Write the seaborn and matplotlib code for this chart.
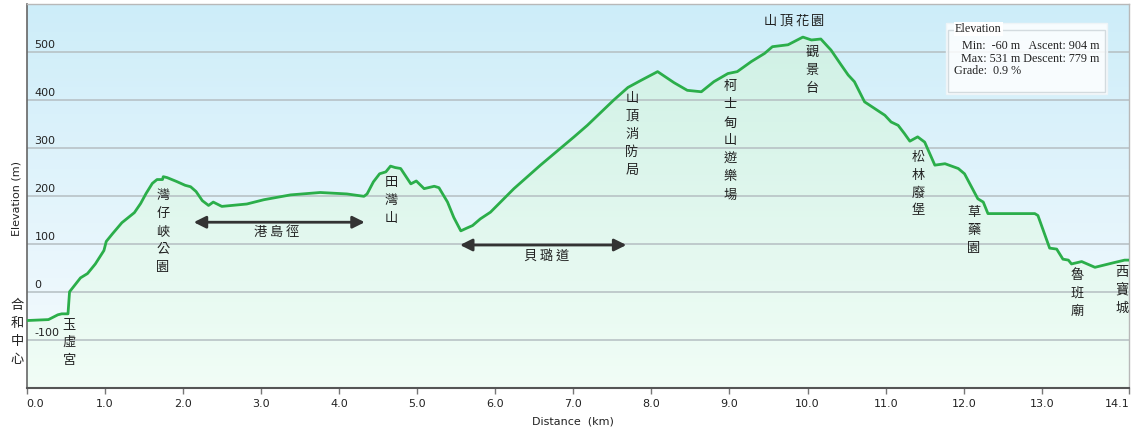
import numpy as np
import matplotlib
matplotlib.use("Agg")
import matplotlib.pyplot as plt
import seaborn as sns
from matplotlib.colors import LinearSegmentedColormap
from matplotlib.patches import Rectangle

# ---------------- data ----------------
distance_km = [0.00, 0.28, 0.40, 0.45, 0.53, 0.55, 0.69, 0.78, 0.88, 0.99, 1.02, 1.10, 1.22,
               1.38, 1.46, 1.53, 1.61, 1.67, 1.74, 1.75, 1.80, 1.92, 2.03, 2.10, 2.17, 2.25,
               2.33, 2.39, 2.50, 2.82, 3.04, 3.38, 3.76, 4.10, 4.32, 4.36, 4.44, 4.52, 4.60,
               4.66, 4.72, 4.79, 4.92, 4.99, 5.09, 5.22, 5.28, 5.39, 5.47, 5.56, 5.64, 5.71,
               5.81, 5.94, 6.24, 6.58, 7.01, 7.18, 7.52, 7.70, 7.87, 8.08, 8.29, 8.46, 8.64,
               8.80, 8.98, 9.10, 9.28, 9.45, 9.55, 9.75, 9.94, 10.05, 10.17, 10.26, 10.30,
               10.43, 10.52, 10.60, 10.73, 10.99, 11.07, 11.16, 11.24, 11.31, 11.41, 11.50,
               11.63, 11.76, 11.93, 12.01, 12.18, 12.25, 12.31, 12.91, 12.95, 13.10, 13.19,
               13.27, 13.34, 13.38, 13.51, 13.68, 13.93, 14.06, 14.12]
elevation_m = [-60, -58, -48, -46, -46, 0, 29, 38, 58, 86, 105, 121, 144,
               165, 184, 205, 226, 234, 234, 240, 238, 230, 222, 219, 209, 190,
               180, 187, 178, 183, 192, 202, 207, 204, 199, 204, 229, 246, 250,
               262, 259, 257, 225, 231, 215, 220, 217, 187, 155, 127, 133, 138,
               152, 166, 215, 264, 323, 347, 400, 426, 441, 459, 436, 420, 417,
               438, 455, 459, 480, 497, 511, 515, 531, 525, 527, 511, 504,
               473, 452, 438, 396, 368, 354, 347, 330, 314, 323, 312,
               264, 267, 257, 246, 194, 187, 163, 163, 159, 91, 89,
               68, 66, 58, 63, 51, 61, 66, 66]

x_ticks = [0, 1, 2, 3, 4, 5, 6, 7, 8, 9, 10, 11, 12, 13, 14.12]
x_tick_labels = ["0.0", "1.0", "2.0", "3.0", "4.0", "5.0", "6.0", "7.0", "8.0", "9.0",
                 "10.0", "11.0", "12.0", "13.0", "14.1"]
y_ticks = [-100, 0, 100, 200, 300, 400, 500]
y_tick_labels = ["-100", "0", "100", "200", "300", "400", "500"]

# vertical place names: km, elevation of first character
vertical_names = ["合和中心", "玉虛宮", "灣仔峽公園", "田灣山", "山頂消防局", "柯士甸山遊樂場",
                  "觀景台", "松林廢堡", "草藥園", "魯班廟", "西寶城"]
vertical_km = [-0.123, 0.543, 1.746, 4.666, 7.752, 9.006, 10.056, 11.414, 12.131, 13.449, 14.026]
vertical_elev = [-28, -68, 201, 228, 404, 427, 498, 281, 166, 34, 41]

# horizontal names: km, elevation of centre
horizontal_names = ["港島徑", "貝璐道", "山頂花園"]
horizontal_km = [3.193, 6.650, 9.826]
horizontal_elev = [124, 74, 564]

# trail section arrows
trail_start_km = [2.14, 5.55]
trail_end_km = [4.33, 7.68]
trail_elev = [145, 97.5]

stat_min, stat_max, stat_ascent, stat_descent, stat_grade = -60, 531, 904, 779, 0.9

# ---------------- figure ----------------
sns.set_theme(style="white")
plt.rcParams['font.family'] = ['DejaVu Sans']
W, H = 1135, 434
fig = plt.figure(figsize=(W / 100, H / 100), dpi=100)
ax = fig.add_axes([26.6 / W, 1 - 387.7 / H, (1129.3 - 26.6) / W, (387.7 - 4) / H])

xmin, xmax, ymin, ymax = 0, 14.12, -200, 600
grad = np.linspace(0, 1, 256).reshape(-1, 1)
bg_cmap = LinearSegmentedColormap.from_list("bg", ["#f7fbfe", "#cdedf9"])
ax.imshow(grad, cmap=bg_cmap, extent=[xmin, xmax, ymin, ymax], origin="lower",
          aspect="auto", zorder=0, interpolation="bicubic")

green_cmap = LinearSegmentedColormap.from_list("gr", ["#f1fdf6", "#cdf0e4"])
poly = ax.fill_between(distance_km, elevation_m, ymin, color="none", lw=0)
gimg = ax.imshow(grad, cmap=green_cmap, extent=[xmin, xmax, ymin, ymax], origin="lower",
                 aspect="auto", zorder=1, interpolation="bicubic")
gimg.set_clip_path(poly.get_paths()[0], transform=ax.transData)

for yv in y_ticks:
    ax.axhline(yv, color="#b5bec2", lw=1.1, zorder=1.5)

sns.lineplot(x=distance_km, y=elevation_m, ax=ax, color="#2bae4a", lw=2.0,
             sort=False, estimator=None, zorder=3)

ax.set_xlim(xmin, xmax)
ax.set_ylim(ymin, ymax)
ax.set_yticks([])
ax.set_xticks(x_ticks, x_tick_labels)
ax.tick_params(axis="x", direction="out", length=4, width=1, color="#777",
               labelsize=8, labelcolor="#222", pad=4, bottom=True)
xlabs = ax.get_xticklabels()
xlabs[0].set_horizontalalignment("left")
xlabs[-1].set_horizontalalignment("right")
ax.set_xlabel("")
ax.set_ylabel("")
for s in ["top", "right"]:
    ax.spines[s].set_color("#b8b8b8")
    ax.spines[s].set_linewidth(1)
ax.spines["left"].set_color("#666")
ax.spines["left"].set_linewidth(1.2)
ax.spines["bottom"].set_color("#555")
ax.spines["bottom"].set_linewidth(1.5)

for yv, lab in zip(y_ticks, y_tick_labels):
    ax.annotate(lab, xy=(0, yv), xycoords=("axes fraction", "data"), xytext=(8, 7),
                textcoords="offset pixels", ha="left", va="center", fontsize=8,
                color="#222", zorder=4)

fig.text(17 / W, 1 - 198 / H, "Elevation (m)", rotation=90, ha="center", va="center",
         fontsize=8, color="#222")
fig.text(573 / W, 1 - 421 / H, "Distance  (km)", ha="center", va="center",
         fontsize=8, color="#222")

cjk = ["Noto Sans CJK TC", "DejaVu Sans"]
for name, km, el in zip(vertical_names, vertical_km, vertical_elev):
    for i, ch in enumerate(name):
        ax.annotate(ch, xy=(km, el), xytext=(0, -18 * i), textcoords="offset pixels",
                    ha="center", va="center", fontsize=9.5, family=cjk, color="#222",
                    annotation_clip=False, zorder=4)
for name, km, el in zip(horizontal_names, horizontal_km, horizontal_elev):
    n = len(name)
    for i, ch in enumerate(name):
        ax.annotate(ch, xy=(km, el), xytext=((i - (n - 1) / 2) * 16, 0),
                    textcoords="offset pixels", ha="center", va="center", fontsize=9.5,
                    family=cjk, color="#222", annotation_clip=False, zorder=4)

for a, b, el in zip(trail_start_km, trail_end_km, trail_elev):
    ax.annotate("", xy=(b, el), xytext=(a, el),
                arrowprops=dict(arrowstyle="<|-|>", color="#333", lw=2,
                                mutation_scale=18, shrinkA=0, shrinkB=0), zorder=4)

# stats box
fig.add_artist(Rectangle((946 / W, 1 - 94 / H), 161 / W, 71 / H, transform=fig.transFigure,
                         facecolor=(1, 1, 1, 0.85), edgecolor="#eef4f7", lw=1, zorder=5))
fig.add_artist(Rectangle((948 / W, 1 - 92 / H), 157 / W, 62 / H, transform=fig.transFigure,
                         facecolor="none", edgecolor="#d3dbdf", lw=1, zorder=6))
serif = ["Liberation Serif", "DejaVu Serif"]
fig.text(955 / W, 1 - 29 / H, "Elevation", ha="left", va="center", fontsize=8.7,
         family=serif, color="#222", zorder=7,
         bbox=dict(facecolor="white", edgecolor="none", pad=0.6))
fig.text(1099 / W, 1 - 46 / H, f"Min:  {stat_min} m   Ascent: {stat_ascent} m", ha="right",
         va="center", fontsize=8.7, family=serif, color="#222", zorder=7)
fig.text(1099 / W, 1 - 59 / H, f"Max: {stat_max} m Descent: {stat_descent} m", ha="right",
         va="center", fontsize=8.7, family=serif, color="#222", zorder=7)
fig.text(954 / W, 1 - 71 / H, f"Grade:  {stat_grade} %", ha="left",
         va="center", fontsize=8.7, family=serif, color="#222", zorder=7)

fig.savefig("out.png", dpi=100)
